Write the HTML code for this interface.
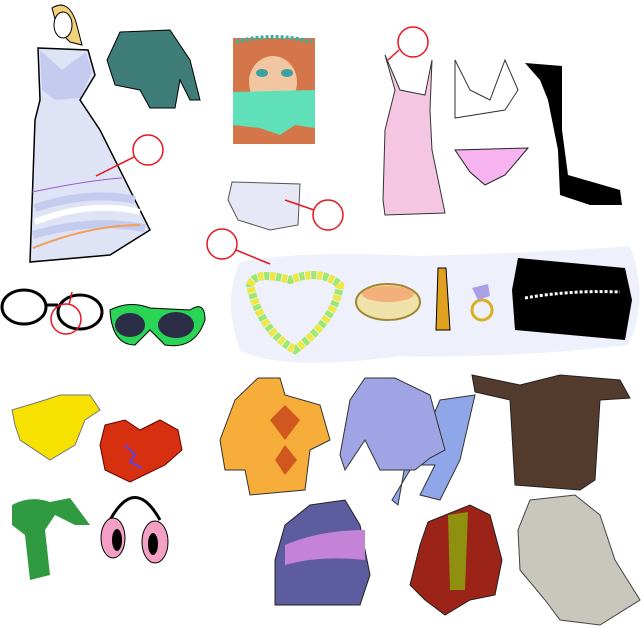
<!DOCTYPE html>
<html><head><meta charset="utf-8"><style>html,body{margin:0;padding:0;background:#fff}svg{display:block}</style></head>
<body>
<svg width="644" height="629" viewBox="0 0 644 629" xmlns="http://www.w3.org/2000/svg">
<rect width="644" height="629" fill="#fff"/>
<path d="M240 262 Q300 250 420 256 Q560 252 630 246 Q650 300 628 345 Q520 358 400 356 Q280 372 240 350 Q222 300 240 262Z" fill="#eef0fb"/>
<!-- woman dress -->
<path d="M52 8 Q68 -2 76 22 L82 45 L70 42 L58 30Z" fill="#f0d27a" stroke="#000"/>
<ellipse cx="63" cy="25" rx="9" ry="13" fill="#fff" stroke="#000"/>
<path d="M38 48 L88 50 L95 75 L80 100 L100 130 L150 230 L110 255 L30 262 L35 120 L40 100 Z" fill="#dfe3f6" stroke="#000" stroke-width="1.5"/>
<path d="M40 50 L62 70 L86 52 L92 72 L80 98 L55 100 L42 90Z" fill="#c4cbee"/>
<path d="M32 192 Q90 180 122 178" stroke="#9b59d0" fill="none"/>
<path d="M35 208 Q90 190 135 200" stroke="#c4cbee" stroke-width="8" fill="none"/>
<path d="M35 222 Q90 200 140 212" stroke="#fff" stroke-width="6" fill="none"/>
<path d="M33 235 Q90 218 145 228" stroke="#c4cbee" stroke-width="8" fill="none"/>
<path d="M33 248 Q90 225 140 225" stroke="#f0a05a" stroke-width="2" fill="none"/>
<!-- green cardigan -->
<path d="M120 32 L170 30 L190 60 L200 100 L190 100 L180 80 L175 108 L150 108 L140 90 L115 85 L107 60Z" fill="#3f7d78" stroke="#000"/>
<!-- veiled face -->
<rect x="233" y="38" width="82" height="106" fill="#d4764a"/>
<ellipse cx="273" cy="82" rx="24" ry="26" fill="#f1c6a0"/>
<ellipse cx="262" cy="73" rx="6" ry="4" fill="#3aa0a0"/>
<ellipse cx="287" cy="73" rx="6" ry="4" fill="#3aa0a0"/>
<path d="M236 42 Q273 32 312 42" stroke="#3ab0a0" stroke-width="4" fill="none" stroke-dasharray="3 2"/>
<path d="M233 92 L315 90 L315 128 L295 125 L280 135 L260 128 L233 125Z" fill="#5fe0b8"/>
<!-- purse -->
<path d="M232 182 L300 184 L298 225 L270 230 L238 220 L228 200Z" fill="#e6e8f5" stroke="#555"/>
<!-- slip -->
<path d="M385 55 L395 90 L385 130 L383 200 L385 215 L445 213 L432 150 L430 110 L432 60 L425 95 L400 90 Z" fill="#f4c6e2" stroke="#333"/>
<path d="M455 60 L470 90 L490 100 L505 60 L518 90 L505 110 L455 118Z" fill="#fff" stroke="#333"/>
<path d="M455 150 L528 148 L505 175 L485 185 L470 172Z" fill="#f6b3ef" stroke="#222"/>
<path d="M525 63 L562 66 L562 130 L568 175 L620 190 L622 205 L590 205 L560 195 L558 150 L548 100 L540 80Z" fill="#000"/>
<!-- glasses -->
<ellipse cx="24" cy="307" rx="22" ry="17" fill="none" stroke="#000" stroke-width="3"/>
<ellipse cx="80" cy="312" rx="22" ry="17" fill="none" stroke="#000" stroke-width="3"/>
<line x1="46" y1="305" x2="58" y2="305" stroke="#000" stroke-width="3"/>
<path d="M110 310 Q130 300 150 308 L190 310 Q205 300 205 320 Q195 350 165 345 L150 330 L135 345 Q112 345 110 310Z" fill="#2ad454" stroke="#000"/>
<ellipse cx="130" cy="325" rx="15" ry="12" fill="#2a2d45"/>
<ellipse cx="176" cy="325" rx="18" ry="13" fill="#2a2d45"/>
<!-- necklace -->
<path d="M250 285 Q255 270 290 280 Q320 268 340 285 Q335 320 295 350 Q260 330 250 285Z" fill="none" stroke="#9ee870" stroke-width="8" stroke-dasharray="5 1"/>
<path d="M250 285 Q255 270 290 280 Q320 268 340 285 Q335 320 295 350 Q260 330 250 285Z" fill="none" stroke="#f0e840" stroke-width="8" stroke-dasharray="5 7"/>
<ellipse cx="388" cy="302" rx="32" ry="18" fill="#efe2a8" stroke="#a08830" stroke-width="2"/>
<ellipse cx="388" cy="294" rx="26" ry="8" fill="#f3b07a"/>
<path d="M438 268 L446 268 L450 330 L436 330Z" fill="#e0a020" stroke="#000"/>
<circle cx="482" cy="310" r="10" fill="none" stroke="#d9b020" stroke-width="3"/>
<path d="M472 288 L488 284 L490 296 L478 300Z" fill="#a9a0e8"/>
<path d="M518 258 L625 268 L632 300 L625 340 L515 330 L512 290Z" fill="#000"/>
<path d="M525 298 Q570 290 620 292" stroke="#fff" stroke-width="3" stroke-dasharray="3 2" fill="none"/>
<!-- gloves -->
<path d="M12 410 L45 400 L60 395 L90 395 L100 410 L85 420 L75 445 L50 460 L20 440 L15 425Z" fill="#f7e100" stroke="#777"/>
<path d="M105 425 L125 420 L140 430 L160 420 L178 430 L182 450 L165 465 L130 482 L105 470 L100 445Z" fill="#d63010" stroke="#600"/>
<path d="M125 445 L135 455 L130 462 L142 468" stroke="#6040e0" fill="none" stroke-width="2"/>
<!-- sweater -->
<path d="M258 378 L280 378 L285 395 L320 405 L330 440 L310 450 L305 490 L250 495 L245 470 L225 470 L220 440 L235 400Z" fill="#f6ad3a" stroke="#333"/>
<path d="M270 420 L285 405 L300 420 L285 440Z M275 460 L285 445 L297 460 L285 475Z" fill="#d05820"/>
<!-- hoodie + pants -->
<path d="M440 400 L475 395 L460 460 L440 500 L420 495 L435 465 L405 465 L398 505 L392 500 L410 470Z" fill="#8fa6e8" stroke="#333"/>
<path d="M365 378 L395 378 L430 395 L445 450 L430 458 L415 470 L380 470 L365 440 L345 470 L340 455 L350 400Z" fill="#9ea4e4" stroke="#333"/>
<!-- brown coat -->
<path d="M472 375 L520 385 L560 375 L620 380 L630 398 L600 400 L595 480 L580 490 L515 485 L510 400 L475 392Z" fill="#533c2e" stroke="#222"/>
<path d="M12 505 Q30 495 50 502 L70 498 L90 525 L75 525 L55 515 L45 530 L50 575 L30 580 L25 535 L12 525Z" fill="#2f9a40"/>
<path d="M110 520 Q135 475 160 520" fill="none" stroke="#000" stroke-width="3"/>
<ellipse cx="113" cy="538" rx="12" ry="20" fill="#f4a0c4" stroke="#000"/>
<ellipse cx="155" cy="542" rx="13" ry="21" fill="#f4a0c4" stroke="#000"/>
<ellipse cx="117" cy="540" rx="5" ry="11" fill="#000"/>
<ellipse cx="153" cy="544" rx="5" ry="11" fill="#000"/>
<!-- purple jacket -->
<path d="M310 505 L345 500 L360 525 L370 575 L360 605 L275 605 L275 560 L285 525Z" fill="#5c5c9e" stroke="#222"/>
<path d="M285 545 Q320 530 365 530 L365 560 Q320 555 285 565Z" fill="#c583d8"/>
<path d="M428 522 L470 505 L490 515 L502 560 L495 595 L470 600 L445 615 L425 600 L410 585 L420 545Z" fill="#9c2318" stroke="#222"/>
<path d="M448 515 L468 512 L465 590 L450 590Z" fill="#8f8f10"/>
<path d="M530 500 L575 495 L600 515 L615 560 L640 600 L600 625 L560 620 L545 600 L520 570 L518 530Z" fill="#c9c6be" stroke="#444"/>
<g fill="none" stroke="#e8141e" stroke-width="1.5">
<circle cx="413" cy="42" r="15"/><line x1="399" y1="50" x2="388" y2="60"/>
<circle cx="148" cy="150" r="15"/><line x1="134" y1="157" x2="96" y2="176"/>
<circle cx="328" cy="215" r="15"/><line x1="314" y1="210" x2="285" y2="200"/>
<circle cx="222" cy="244" r="15"/><line x1="236" y1="250" x2="270" y2="264"/>
<circle cx="66" cy="319" r="15"/><line x1="69" y1="305" x2="72" y2="292"/>
</g>
</svg>
</body></html>
